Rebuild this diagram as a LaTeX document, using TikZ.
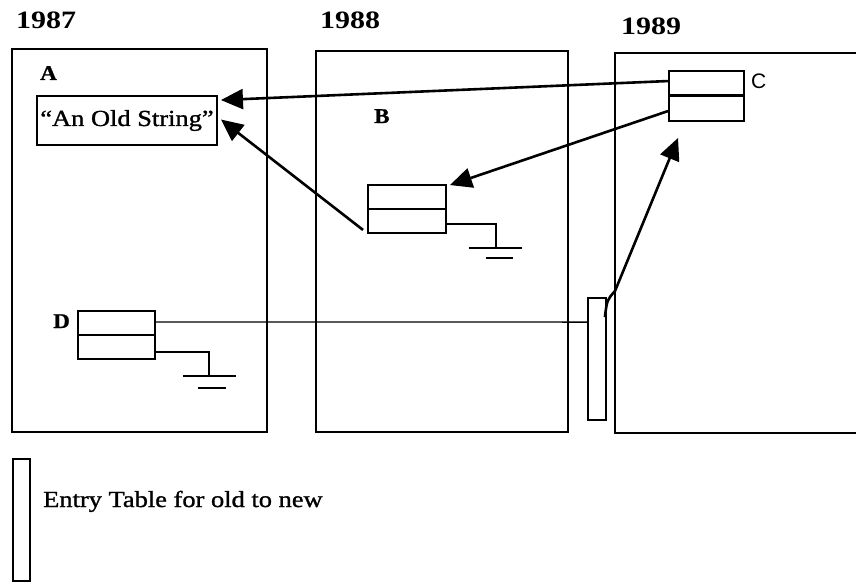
\documentclass[tikz,border=0pt]{standalone}
\usepackage{fontspec}
\setmainfont{Liberation Serif}[FakeStretch=1.15,FakeBold=1.2]
\newfontfamily\yearfont{Liberation Serif Bold}[FakeStretch=1.2]
\newfontfamily\lblfont{Liberation Serif Bold}[FakeStretch=1.1,FakeBold=1]
\setsansfont{Liberation Sans}
\usetikzlibrary{arrows.meta,calc}
\begin{document}
\begin{tikzpicture}[x=1pt,y=-1pt,
  frame/.style={draw,line width=2.1pt},
  rec/.style={draw,line width=1.9pt,inner sep=0pt},
  tbl/.style={draw,line width=1.8pt,inner sep=0pt,minimum width=18pt,minimum height=122pt},
  ptr/.style={line width=2.6pt,-{Triangle[length=22pt,width=20pt]}},
  thin/.style={line width=1.3pt},
  gbar/.style={line width=2.2pt},
  year/.style={anchor=base west,inner sep=0pt,font=\yearfont\fontsize{25}{28}\selectfont},
  lbl/.style={anchor=base west,inner sep=0pt,font=\lblfont\fontsize{21}{24}\selectfont},
  txt/.style={anchor=base west,inner sep=0pt,font=\fontsize{23}{26}\selectfont}]
\useasboundingbox (0,0) rectangle (856,583);

% year frames
\draw[frame] (12,49) rectangle (267,432);
\draw[frame] (316,51) rectangle (568,432);
\draw[frame] (866,53) -- (615,53) -- (615,433) -- (866,433);

% year labels
\node[year] (y87) at (16,29) {1987};
\node[year] (y88) at (320,29) {1988};
\node[year] (y89) at (621,35) {1989};

% letters
\node[lbl] (la) at (40,80) {A};
\node[lbl] (lb) at (374,123) {B};
\node[anchor=base west,inner sep=0pt,font=\sffamily\fontsize{21}{24}\selectfont] (lc) at (751,89) {C};
\node[lbl] (ld) at (53,328) {D};

% string box
\node[rec,minimum width=180pt,minimum height=49pt,font=\fontsize{23}{26}\selectfont] (str) at (127,120.5) {``An Old String''};

% records
\node[rec,minimum width=78pt,minimum height=48pt] (B) at (407,209) {};
\draw[line width=1.9pt] (B.west) -- (B.east);
\node[rec,minimum width=75pt,minimum height=50pt] (C) at (706.5,96) {};
\draw[line width=3pt] (C.west) -- (C.east);
\node[rec,minimum width=77pt,minimum height=48pt] (D) at (116.5,335) {};
\draw[line width=1.9pt] (D.west) -- (D.east);

% entry tables
\node[tbl] (E) at (597,359) {};
\node[tbl,minimum width=17pt] (L) at (21.5,520) {};
\node[txt] (lt) at (43,507) {Entry Table for old to new};

% grounds
\draw[thin] ($(B.south east)+(0,-10)$) -- ++(49,0) coordinate (gb) -- ++(0,24) coordinate (gb1);
\draw[gbar] ($(gb1)+(-27,0)$) -- ++(53,0);
\draw[gbar] ($(gb1)+(-10,10)$) -- ++(27,0);
\draw[thin] ($(D.south east)+(0,-8)$) -- ++(53,0) coordinate (gd) -- ++(0,24) coordinate (gd1);
\draw[gbar] ($(gd1)+(-26,0)$) -- ++(53,0);
\draw[gbar] ($(gd1)+(-11,12)$) -- ++(28,0);

% pointers
\draw[ptr] ($(C.north west)+(0,11)$) -- ($(str.north east)+(3,5)$);
\draw[ptr] ($(C.north west)+(0,41)$) -- ($(B.north east)+(3,1)$);
\draw[ptr] ($(B.south west)+(-4,-4)$) -- ($(str.east)+(3,-1)$);
\draw[ptr] ($(E.north east)+(-2,20)$) .. controls (607,300) .. (615,291) -- ($(C.south west)+(10,16)$);
\draw[thin] ($(D.north east)+(0,12)$) -- ($(E.north west)+(0,25)$);
\end{tikzpicture}
\end{document}
